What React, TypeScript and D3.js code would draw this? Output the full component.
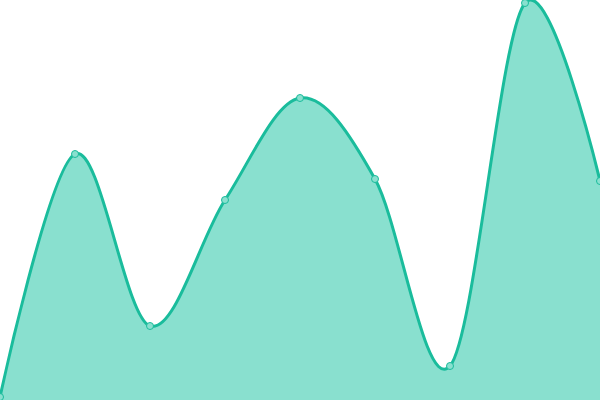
import React, { useEffect, useRef } from 'react';
import * as d3 from 'd3';

const labels = ['a', 'b', 'c', 'd', 'e', 'f', 'g', 'h', 'i'];
const values = [3, 246, 74, 200, 302, 221, 34, 397, 219];

const App: React.FC = () => {
  const svgRef = useRef<SVGSVGElement>(null);

  useEffect(() => {
    const width = 600;
    const height = 400;

    const svg = d3.select(svgRef.current)
      .attr('width', width)
      .attr('height', height);
    svg.selectAll('*').remove();

    const xScale = d3.scalePoint<string>()
      .domain(labels)
      .range([0, width]);

    const yScale = d3.scaleLinear()
      .domain([0, 400])
      .range([height, 0]);

    const curve = d3.curveCardinal.tension(0);

    const area = d3.area<number>()
      .x((_, i) => xScale(labels[i]) as number)
      .y0(height)
      .y1(d => yScale(d))
      .curve(curve);

    const line = d3.line<number>()
      .x((_, i) => xScale(labels[i]) as number)
      .y(d => yScale(d))
      .curve(curve);

    svg.append('path')
      .datum(values)
      .attr('d', area)
      .attr('fill', '#89e0cf');

    svg.append('path')
      .datum(values)
      .attr('d', line)
      .attr('fill', 'none')
      .attr('stroke', '#1abc9c')
      .attr('stroke-width', 3);

    svg.selectAll('circle')
      .data(values)
      .enter().append('circle')
      .attr('cx', (_, i) => xScale(labels[i]) as number)
      .attr('cy', d => yScale(d))
      .attr('r', 3.5)
      .attr('fill', '#89e0cf')
      .attr('stroke', '#1abc9c')
      .attr('stroke-width', 1);
  }, []);

  return (
    <svg ref={svgRef} style={{ position: 'absolute', top: 0, left: 0 }}></svg>
  );
};

export default App;
